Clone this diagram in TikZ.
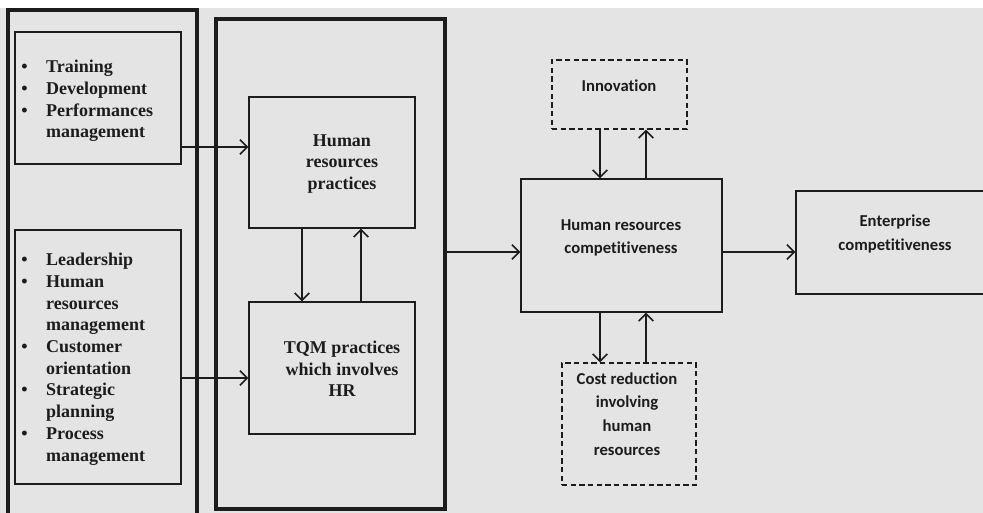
\documentclass[tikz,border=0pt]{standalone}
\usepackage{fontspec}
\setmainfont{Liberation Serif}
\newfontfamily\calibri[Ligatures=NoCommon]{Carlito}
\usetikzlibrary{arrows.meta}
\definecolor{panel}{HTML}{E4E4E4}
\definecolor{ink}{HTML}{1C1C1C}
\tikzset{
  heavy/.style={draw=ink,line width=2.3pt},
  plain/.style={draw=ink,line width=1.1pt},
  dashbox/.style={draw=ink,line width=1.1pt,dash pattern=on 4pt off 2.5pt},
  serif/.style={font=\fontsize{13.5}{16.3}\selectfont\bfseries,align=center,text=ink},
  sans/.style={font=\calibri\fontsize{12.5}{17.8}\selectfont\bfseries,align=center,text=ink},
  link/.style={draw=ink,line width=1.1pt,-{Straight Barb[length=5.5pt,width=11pt]}}
}
\begin{document}
\begin{tikzpicture}[x=0.75pt,y=-0.75pt,inner sep=0pt]
  \useasboundingbox (0,0) rectangle (983,513);
  \fill[panel] (0,8) rectangle (983,513);
  \node[heavy,minimum width=141.75pt,minimum height=386.25pt] (grpL) at (102.5,267.5) {};
  \node[heavy,minimum width=171.75pt,minimum height=367.5pt] (grpM) at (330.5,264) {};
  \node[plain,minimum width=124.5pt,minimum height=99pt] (list1) at (98,98) {};
  \node[plain,minimum width=124.5pt,minimum height=190.5pt] (list2) at (98,357) {};
  \node[plain,minimum width=124.5pt,minimum height=98.25pt] (hrp) at (332,162.5) {};
  \node[plain,minimum width=124.5pt,minimum height=99pt] (tqm) at (332,368) {};
  \node[plain,minimum width=150.75pt,minimum height=99.75pt] (hrc) at (621.5,245.5) {};
  \node[plain,minimum width=145.5pt,minimum height=77.25pt] (ent) at (893,242.5) {};
  \node[dashbox,minimum width=101.25pt,minimum height=51.75pt] (inno) at (619.5,94.5) {};
  \node[dashbox,minimum width=100.5pt,minimum height=91.5pt] (cost) at (629,424) {};
  \node[serif,anchor=west,align=left] (list1-txt) at (21,101) {%
    \begin{tabular}{@{}l@{\hspace{14pt}}l@{}}
    \textbullet & Training\\
    \textbullet & Development\\
    \textbullet & Performances\\
     & management
    \end{tabular}};
  \node[serif,anchor=west,align=left] (list2-txt) at (21,359) {%
    \begin{tabular}{@{}l@{\hspace{14pt}}l@{}}
    \textbullet & Leadership\\
    \textbullet & Human\\
     & resources\\
     & management\\
    \textbullet & Customer\\
     & orientation\\
    \textbullet & Strategic\\
     & planning\\
    \textbullet & Process\\
     & management
    \end{tabular}};
  \node[serif] (hrp-txt) at (342,164) {Human\\resources\\practices};
  \node[serif] (tqm-txt) at (342,369) {TQM practices\\which involves\\HR};
  \node[sans] (hrc-txt) at (621,238) {Human resources\\competitiveness};
  \node[sans] (ent-txt) at (895,234) {Enterprise\\competitiveness};
  \node[sans] (inno-txt) at (619,86) {Innovation};
  \node[sans] (cost-txt) at (627,414) {Cost reduction\\involving\\human\\resources};
  \draw[link] (list1.east |- 0,147) -- (hrp.west |- 0,147);
  \draw[link] (list2.east |- 0,378) -- (tqm.west |- 0,378);
  \draw[link] (hrp.south -| 302,0) -- (tqm.north -| 302,0);
  \draw[link] (tqm.north -| 361,0) -- (hrp.south -| 361,0);
  \draw[link] (grpM.east |- 0,252) -- (hrc.west |- 0,252);
  \draw[link] (hrc.east |- 0,252) -- (ent.west |- 0,252);
  \draw[link] (inno.south -| 600,0) -- (hrc.north -| 600,0);
  \draw[link] (hrc.north -| 646,0) -- (inno.south -| 646,0);
  \draw[link] (hrc.south -| 600,0) -- (cost.north -| 600,0);
  \draw[link] (cost.north -| 646,0) -- (hrc.south -| 646,0);
\end{tikzpicture}
\end{document}
